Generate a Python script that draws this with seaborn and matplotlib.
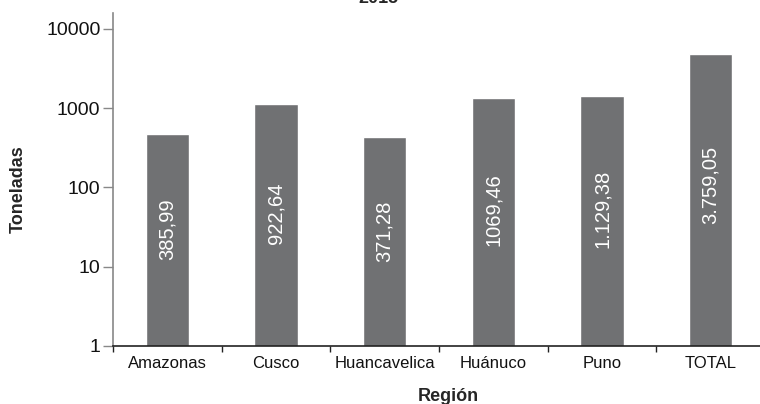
"""
Toneladas por región (escala logarítmica)
"""

import pandas as pd
import matplotlib.pyplot as plt
import seaborn as sns
from matplotlib.ticker import FixedLocator, NullLocator

sns.set_theme(style="white")
plt.rcParams["font.family"] = ["Liberation Sans", "DejaVu Sans"]

# -------------------------------------------------------
# Data (bar heights, labels as printed)
# -------------------------------------------------------
regiones = ["Amazonas", "Cusco", "Huancavelica", "Huánuco", "Puno", "TOTAL"]
alturas = [471, 1127, 436, 1342, 1423, 4820]
etiquetas = ["385,99", "922,64", "371,28", "1069,46", "1.129,38", "3.759,05"]
yticks = [1, 10, 100, 1000, 10000]
ytick_labels = ["1", "10", "100", "1000", "10000"]

df = pd.DataFrame({"Región": regiones, "Toneladas": alturas})

BAR_COLOR = "#707173"

fig = plt.figure(figsize=(7.6, 4.04), dpi=100)
ax = fig.add_axes([113 / 760, 58 / 404, 652 / 760, 333 / 404])

sns.barplot(data=df, x="Región", y="Toneladas", color=BAR_COLOR,
            width=0.40, saturation=1, ax=ax)

ax.set_yscale("log")
ax.set_ylim(1, 15800)
ax.set_xlim(-0.5, 5.5)

ax.yaxis.set_major_locator(FixedLocator(yticks))
ax.yaxis.set_minor_locator(NullLocator())
ax.set_yticklabels(ytick_labels)

# labels inside bars
for i, (h, lab) in enumerate(zip(alturas, etiquetas)):
    ax.text(i, h ** 0.55, lab, rotation=90, ha="center", va="center",
            color="white", fontsize=14.5)

# category boundary ticks on x axis
ax.set_xticks(range(len(regiones)))
ax.set_xticklabels(regiones, fontsize=12, color="#111111")
ax.set_xticks([i - 0.5 for i in range(len(regiones) + 1)], minor=True)
ax.tick_params(axis="x", which="major", length=0, pad=7)
ax.tick_params(axis="x", which="minor", length=4, width=1, color="#222222",
               direction="out", bottom=True)
ax.tick_params(axis="y", length=7, width=1, color="#888888", direction="out",
               labelsize=14, labelcolor="#111111", pad=2, left=True)

for side in ["top", "right"]:
    ax.spines[side].set_visible(False)
ax.spines["left"].set_color("#888888")
ax.spines["left"].set_linewidth(1.2)
ax.spines["bottom"].set_color("#222222")
ax.spines["bottom"].set_linewidth(1.2)
ax.grid(False)

ax.set_xlabel("Región", fontsize=13, fontweight="bold")
ax.set_ylabel("Toneladas", fontsize=13, fontweight="bold")
ax.yaxis.set_label_coords(-(113 - 27) / 652, 0.47)
ax.xaxis.set_label_coords((448 - 113) / 652, -0.125)

fig.text(378 / 760, 1.0 - 3 / 404, "2015", ha="center", va="baseline",
         fontsize=13, fontweight="bold")

fig.savefig("out.png", dpi=100)
plt.close(fig)
